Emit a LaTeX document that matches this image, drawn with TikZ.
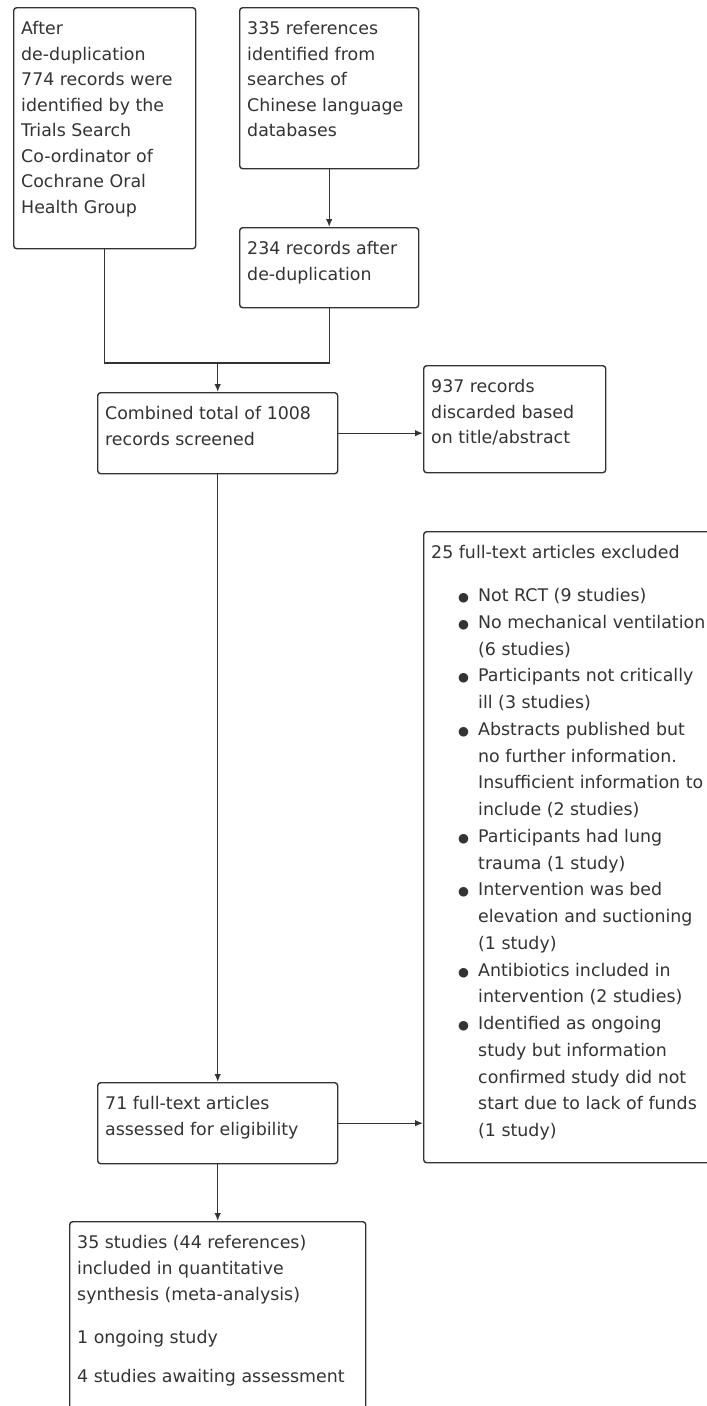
\documentclass[tikz,border=0pt]{standalone}
\usepackage{fontspec}
\setmainfont{DejaVu Sans}
\usetikzlibrary{arrows.meta}

% text block at the top of a box: width, height, text
\newcommand{\boxtext}[3]{\parbox[c][#2][t]{#1}{\rule{0pt}{27pt}#3}}
% one bullet line of the exclusion list
\newcommand{\exitem}[1]{\par\hangindent=47pt\hangafter=1\noindent\makebox[47pt][l]{\hspace{27pt}{\fontsize{12.5}{12.5}\selectfont ●}}#1\par}

\begin{document}
\begin{tikzpicture}[x=1pt,y=1pt]
            \tikzstyle{every node}=[font=\fontsize{17.4}{25.5}\selectfont, text=black!80]
            \tikzstyle{box}=[draw=black!80, line width=1.4pt, rounded corners=3pt, anchor=north west, inner xsep=7.5pt, inner ysep=0pt]
            \tikzstyle{conn}=[draw=black!80, line width=1.4pt]
            \tikzstyle{arr}=[conn, -{Latex[length=8pt,width=6.5pt]}]

            \useasboundingbox (0,0) rectangle (707,-1406);
            \clip (0,0) rectangle (707,-1406);

            \node[box] (srcoral) at (13,-7) {\boxtext{167pt}{241pt}{After\\ de-duplication\\ 774 records were\\ identified by the\\ Trials Search\\ Co-ordinator of\\ Cochrane Oral\\ Health Group}};
            \node[box] (srcchinese) at (239,-7) {\boxtext{164pt}{161pt}{335 references\\ identified from\\ searches of\\ Chinese language\\ databases}};
            \node[box] (dedup) at (239,-227) {\boxtext{164pt}{80pt}{234 records after\\ de-duplication}};

            \node[box] (screened) at (97,-392) {\boxtext{225pt}{81pt}{Combined total of 1008\\ records screened}};
            \node[box] (discarded) at (423,-365) {\boxtext{167pt}{107pt}{937 records\\ discarded based\\ on title/abstract}};

            \node[box] (excluded) at (423,-531) {\boxtext{300pt}{631pt}{\fontsize{17.4}{26.75}\selectfont
                25 full-text articles excluded\par\vspace{16.25pt}
                \exitem{Not RCT (9 studies)}
                \exitem{No mechanical ventilation\\ (6 studies)}
                \exitem{Participants not critically\\ ill (3 studies)}
                \exitem{Abstracts published but\\ no further information.\\ Insufficient information to\\ include (2 studies)}
                \exitem{Participants had lung\\ trauma (1 study)}
                \exitem{Intervention was bed\\ elevation and suctioning\\ (1 study)}
                \exitem{Antibiotics included in\\ intervention (2 studies)}
                \exitem{Identified as ongoing\\ study but information\\ confirmed study did not\\ start due to lack of funds\\ (1 study)}}};

            \node[box] (fulltext) at (97,-1082) {\boxtext{225pt}{81pt}{71 full-text articles\\ assessed for eligibility}};
            \node[box] (included) at (69,-1221) {\boxtext{281pt}{240pt}{\fontsize{17.4}{26}\selectfont
                35 studies (44 references)\\ included in quantitative\\ synthesis (meta-analysis)\par\vspace{17pt}
                1 ongoing study\par\vspace{13pt}
                4 studies awaiting assessment}};

            \coordinate (join) at (screened.north |- 0,-363);

            \draw[conn] (srcoral.south) |- (dedup.south |- join) -- (dedup.south);
            \draw[arr] (srcchinese.south) -- (dedup.north);
            \draw[arr] (join) -- (screened.north);
            \draw[arr] (screened.east) -- (screened.east -| discarded.west);
            \draw[arr] (screened.south) -- (fulltext.north);
            \draw[arr] (fulltext.east) -- (fulltext.east -| excluded.west);
            \draw[arr] (fulltext.south) -- (included.north);

\end{tikzpicture}
\end{document}
